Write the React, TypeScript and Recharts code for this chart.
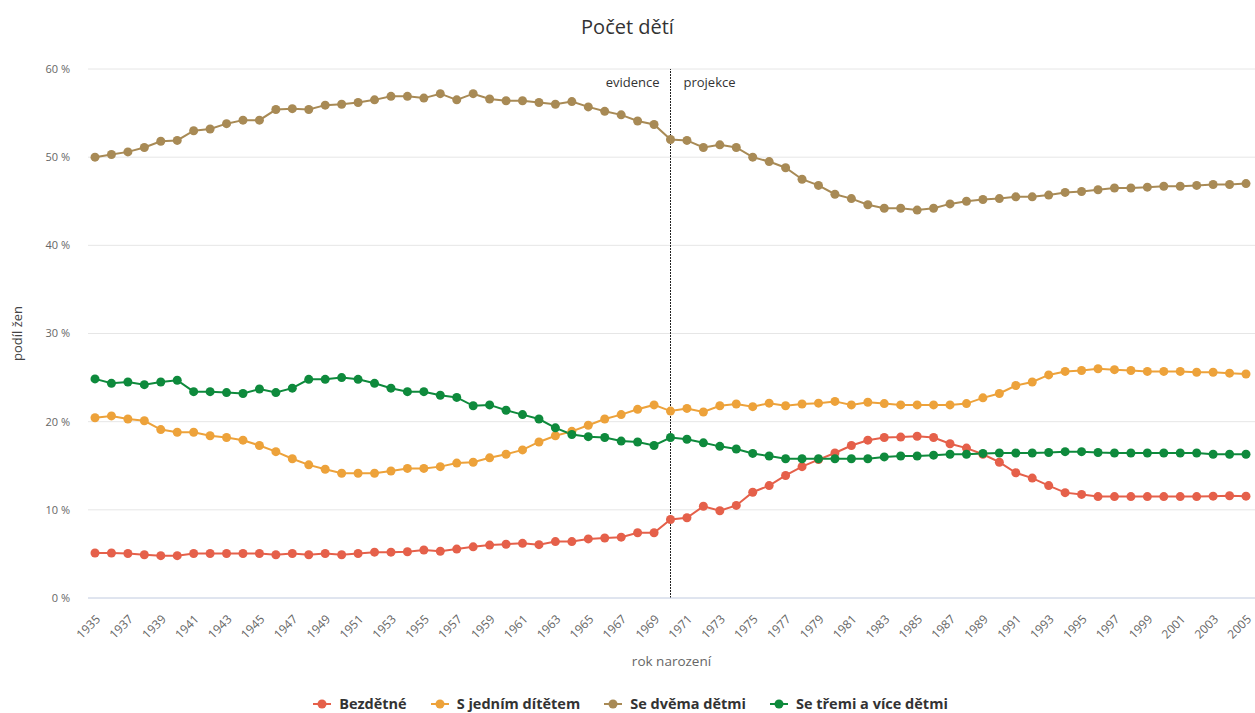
import React from 'react';
import { LineChart, Line, XAxis, YAxis, CartesianGrid, ReferenceLine, Legend } from 'recharts';

const years = [
  1935, 1936, 1937, 1938, 1939, 1940, 1941, 1942, 1943, 1944,
  1945, 1946, 1947, 1948, 1949, 1950, 1951, 1952, 1953, 1954,
  1955, 1956, 1957, 1958, 1959, 1960, 1961, 1962, 1963, 1964,
  1965, 1966, 1967, 1968, 1969, 1970, 1971, 1972, 1973, 1974,
  1975, 1976, 1977, 1978, 1979, 1980, 1981, 1982, 1983, 1984,
  1985, 1986, 1987, 1988, 1989, 1990, 1991, 1992, 1993, 1994,
  1995, 1996, 1997, 1998, 1999, 2000, 2001, 2002, 2003, 2004,
  2005,
];

const bezdetne = [
  5.1, 5.1, 5.05, 4.9, 4.8, 4.8, 5.05, 5.05, 5.05, 5.05,
  5.05, 4.9, 5.05, 4.9, 5.05, 4.9, 5.05, 5.2, 5.2, 5.25,
  5.45, 5.3, 5.55, 5.8, 6.0, 6.1, 6.2, 6.05, 6.4, 6.4,
  6.7, 6.8, 6.9, 7.4, 7.4, 8.9, 9.1, 10.4, 9.9, 10.5,
  12.0, 12.75, 13.9, 14.9, 15.7, 16.45, 17.3, 17.9, 18.2, 18.25,
  18.35, 18.2, 17.5, 17.0, 16.3, 15.4, 14.2, 13.6, 12.75, 11.95,
  11.75, 11.5, 11.5, 11.5, 11.5, 11.5, 11.5, 11.5, 11.55, 11.6,
  11.55,
];

const sJednim = [
  20.45, 20.65, 20.3, 20.1, 19.1, 18.8, 18.8, 18.4, 18.2, 17.9,
  17.3, 16.6, 15.8, 15.1, 14.6, 14.15, 14.15, 14.15, 14.4, 14.7,
  14.7, 14.9, 15.3, 15.4, 15.9, 16.3, 16.8, 17.7, 18.4, 18.9,
  19.6, 20.3, 20.8, 21.4, 21.9, 21.2, 21.5, 21.1, 21.8, 22.0,
  21.7, 22.1, 21.8, 22.0, 22.1, 22.3, 21.9, 22.2, 22.05, 21.9,
  21.9, 21.9, 21.9, 22.05, 22.7, 23.2, 24.1, 24.5, 25.3, 25.7,
  25.8, 26.0, 25.9, 25.8, 25.7, 25.7, 25.7, 25.6, 25.6, 25.5,
  25.4,
];

const seDvema = [
  50.0, 50.3, 50.6, 51.1, 51.8, 51.9, 53.0, 53.2, 53.8, 54.2,
  54.2, 55.4, 55.5, 55.4, 55.9, 56.0, 56.2, 56.5, 56.9, 56.9,
  56.7, 57.2, 56.5, 57.2, 56.6, 56.4, 56.4, 56.2, 56.0, 56.3,
  55.7, 55.2, 54.8, 54.1, 53.7, 52.0, 51.9, 51.1, 51.4, 51.1,
  50.0, 49.5, 48.8, 47.5, 46.8, 45.8, 45.3, 44.6, 44.2, 44.2,
  44.0, 44.2, 44.7, 45.0, 45.2, 45.3, 45.5, 45.5, 45.7, 46.0,
  46.1, 46.3, 46.5, 46.5, 46.6, 46.7, 46.7, 46.8, 46.9, 46.9,
  47.0,
];

const seTremi = [
  24.85, 24.35, 24.5, 24.2, 24.5, 24.7, 23.4, 23.4, 23.3, 23.2,
  23.7, 23.3, 23.8, 24.8, 24.8, 25.0, 24.8, 24.35, 23.8, 23.4,
  23.4, 23.0, 22.75, 21.8, 21.9, 21.3, 20.8, 20.3, 19.3, 18.55,
  18.3, 18.2, 17.8, 17.7, 17.3, 18.2, 18.0, 17.6, 17.2, 16.9,
  16.4, 16.1, 15.8, 15.8, 15.8, 15.8, 15.8, 15.8, 16.0, 16.1,
  16.1, 16.2, 16.3, 16.3, 16.4, 16.45, 16.45, 16.45, 16.5, 16.6,
  16.6, 16.5, 16.45, 16.45, 16.45, 16.45, 16.45, 16.45, 16.3, 16.3,
  16.3,
];

const yTicks = [0, 10, 20, 30, 40, 50, 60];

const seriesDefs = [
  { key: 'bezdetne', name: 'Bezdětné', color: '#e5604a', values: bezdetne },
  { key: 'sJednim', name: 'S jedním dítětem', color: '#eda23a', values: sJednim },
  { key: 'seDvema', name: 'Se dvěma dětmi', color: '#a88a55', values: seDvema },
  { key: 'seTremi', name: 'Se třemi a více dětmi', color: '#0e8a3c', values: seTremi },
];

const data = years.map((year, i) => {
  const row: Record<string, number> = { year };
  seriesDefs.forEach((s) => {
    row[s.key] = s.values[i];
  });
  return row;
});

const FONT = '"Open Sans", "DejaVu Sans", sans-serif';

const XTick = (props: any) => {
  const { x, y, payload } = props;
  const ax = x + 6;
  const ay = y + 14;
  return (
    <text
      x={ax}
      y={ay}
      transform={`rotate(-45, ${ax}, ${ay})`}
      textAnchor="end"
      fontSize={12}
      fill="#666"
      fontFamily={FONT}
    >
      {payload.value}
    </text>
  );
};

const LegendContent = () => (
  <div
    style={{
      display: 'flex',
      justifyContent: 'center',
      alignItems: 'center',
      gap: 24,
      fontFamily: FONT,
      fontWeight: 700,
      fontSize: 14.5,
      color: '#333',
      paddingLeft: 6,
    }}
  >
    {seriesDefs.map((s) => (
      <div key={s.key} style={{ display: 'flex', alignItems: 'center' }}>
        <svg width={18} height={12} style={{ marginRight: 8 }}>
          <line x1={0} y1={6} x2={18} y2={6} stroke={s.color} strokeWidth={2} />
          <circle cx={9} cy={6} r={4.5} fill={s.color} />
        </svg>
        <span>{s.name}</span>
      </div>
    ))}
  </div>
);

export default function App() {
  return (
    <div style={{ position: 'absolute', left: 0, top: 0, width: 1255, height: 713, background: '#fff' }}>
      <div
        style={{
          position: 'absolute',
          top: 13,
          left: 0,
          width: 1255,
          textAlign: 'center',
          fontFamily: FONT,
          fontSize: 20,
          color: '#333',
        }}
      >
        Počet dětí
      </div>
      <LineChart
        width={1255}
        height={713}
        data={data}
        margin={{ top: 69, right: 0, left: 0, bottom: 55 }}
      >
        <CartesianGrid vertical={false} stroke="#e6e6e6" />
        <XAxis
          dataKey="year"
          type="category"
          interval={1}
          padding={{ left: 7, right: 9 }}
          height={60}
          tickLine={false}
          axisLine={{ stroke: '#ccd6eb' }}
          tick={<XTick />}
          label={{
            content: (p: any) => {
              const vb = p.viewBox || {};
              return (
                <text
                  x={vb.x + vb.width / 2}
                  y={666}
                  textAnchor="middle"
                  fontSize={13.5}
                  fill="#666"
                  fontFamily={FONT}
                >
                  rok narození
                </text>
              );
            },
          }}
        />
        <YAxis
          type="number"
          domain={[0, 60]}
          ticks={yTicks}
          width={88}
          axisLine={false}
          tickLine={false}
          tickSize={0}
          tickMargin={18}
          tickFormatter={(v: number) => `${v} %`}
          tick={{ fontSize: 11, fill: '#666', fontFamily: FONT }}
          label={{
            content: (p: any) => {
              const vb = p.viewBox || {};
              const cy = vb.y + vb.height / 2;
              return (
                <text
                  x={22}
                  y={cy}
                  transform={`rotate(-90, 22, ${cy})`}
                  textAnchor="middle"
                  fontSize={13}
                  fill="#444"
                  fontFamily={FONT}
                >
                  podíl žen
                </text>
              );
            },
          }}
        />
        <ReferenceLine
          x={1970}
          stroke="#222"
          strokeDasharray="2 1"
          strokeWidth={1}
          ifOverflow="extendDomain"
          label={{
            content: (p: any) => {
              const vb = p.viewBox || {};
              return (
                <g fontFamily={FONT} fontSize={13} fill="#333">
                  <text x={vb.x - 11} y={vb.y + 18} textAnchor="end">evidence</text>
                  <text x={vb.x + 13} y={vb.y + 18} textAnchor="start">projekce</text>
                </g>
              );
            },
          }}
        />
        {seriesDefs.map((s) => (
          <Line
            key={s.key}
            dataKey={s.key}
            name={s.name}
            type="linear"
            stroke={s.color}
            strokeWidth={2}
            dot={{ r: 4.5, fill: s.color, stroke: s.color, strokeWidth: 0 }}
            activeDot={false}
            isAnimationActive={false}
          />
        ))}
        <Legend
          layout="horizontal"
          verticalAlign="middle"
          align="center"
          wrapperStyle={{ position: 'absolute', top: 694, left: 0, width: 1255 }}
          content={<LegendContent />}
        />
      </LineChart>
    </div>
  );
}
